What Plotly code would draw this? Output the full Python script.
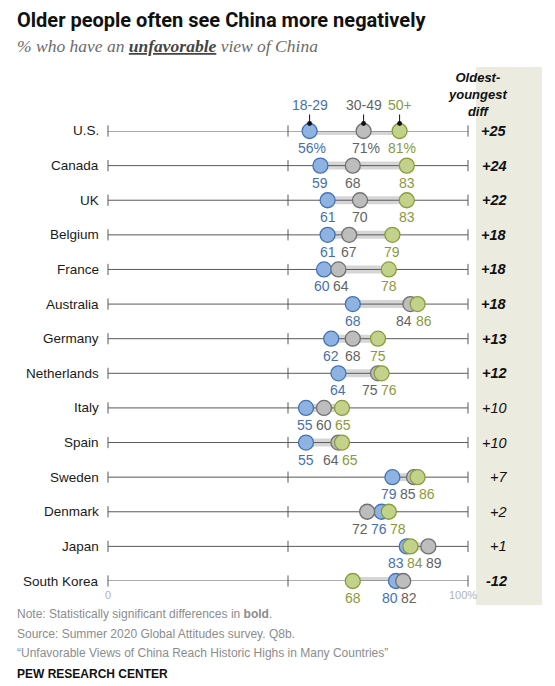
import plotly.graph_objects as go

countries = ["U.S.", "Canada", "UK", "Belgium", "France", "Australia", "Germany",
             "Netherlands", "Italy", "Spain", "Sweden", "Denmark", "Japan", "South Korea"]
age_18_29 = [56, 59, 61, 61, 60, 68, 62, 64, 55, 55, 79, 76, 83, 80]
age_30_49 = [71, 68, 70, 67, 64, 84, 68, 75, 60, 64, 85, 72, 89, 82]
age_50_plus = [81, 83, 83, 79, 78, 86, 75, 76, 65, 65, 86, 78, 84, 68]
significant = [True, True, True, True, True, True, True, True,
               False, False, False, False, False, True]
group_names = ["18-29", "30-49", "50+"]
axis_ticks = [0, 50, 100]
tick_labels = ["0", "", "100%"]

W, H = 555, 686
OFF = 8                    # page body margin
FW, FH = W - OFF, H - OFF  # figure size
X0, X1 = 108, 468          # page pixel positions of 0 and 100
Y0, Y1 = 131, 581          # page pixel positions of first and last row
PXU = (X1 - X0) / 100.0


def py(p):
    return 1 - (p - OFF) / FH


def pxp(p):
    return (p - OFF) / FW


FONT = "Liberation Sans, Arial, sans-serif"
fill = ["#8fb3e1", "#bdbdbd", "#c3d28a"]
edge = ["#4472b8", "#707070", "#8a9c3c"]
lab_col = ["#4670b0", "#636363", "#8a9a3c"]

series = [age_18_29, age_30_49, age_50_plus]
rows = list(range(len(countries)))

fig = go.Figure()

# range band (min to max)
bx, by = [], []
for i in rows:
    vals = [s[i] for s in series]
    bx += [min(vals), max(vals), None]
    by += [i, i, None]
fig.add_trace(go.Scatter(x=bx, y=by, mode="lines", line=dict(color="#d6d6d6", width=8),
                         hoverinfo="skip", cliponaxis=False))
# axis lines
lx, ly = [], []
for i in rows:
    lx += [axis_ticks[0], axis_ticks[-1], None]
    ly += [i, i, None]
fig.add_trace(go.Scatter(x=lx, y=ly, mode="lines", line=dict(color="#595959", width=1),
                         hoverinfo="skip", cliponaxis=False))
tx, ty = [], []
for i in rows:
    for t in axis_ticks:
        tx.append(t)
        ty.append(i)
fig.add_trace(go.Scatter(x=tx, y=ty, mode="markers",
                         marker=dict(symbol="line-ns", size=8, line=dict(color="#595959", width=1)),
                         hoverinfo="skip", cliponaxis=False))
# dots
for k, s in enumerate(series):
    fig.add_trace(go.Scatter(x=s, y=rows, mode="markers",
                             marker=dict(size=15, color=fill[k], line=dict(color=edge[k], width=1.3)),
                             hoverinfo="skip", cliponaxis=False))

annotations = []

# value labels with simple collision avoidance
SEP = 19.0
for i in rows:
    items = sorted([(X0 + series[k][i] * PXU, k) for k in range(3)])
    clusters = [[it] for it in items]

    def positions(c):
        m = sum(p for p, _ in c) / len(c)
        n = len(c)
        return [m + (j - (n - 1) / 2) * SEP for j in range(n)]

    changed = True
    while changed:
        changed = False
        for j in range(len(clusters) - 1):
            a, b = positions(clusters[j]), positions(clusters[j + 1])
            if a[-1] + SEP > b[0] + 0.01:
                clusters[j] = clusters[j] + clusters[j + 1]
                del clusters[j + 1]
                changed = True
                break
    for c in clusters:
        for (orig, k), newp in zip(c, positions(c)):
            txt = str(series[k][i]) + ("%" if i == 0 else "")
            annotations.append(dict(x=series[k][i], y=i, xref="x", yref="y", text=txt,
                                    showarrow=False, xshift=newp - orig + (2 if i == 0 else 0),
                                    yshift=-17, font=dict(family=FONT, size=14, color=lab_col[k])))

# group labels with pointers above first row
for k in range(3):
    annotations.append(dict(x=series[k][0], y=0, xref="x", yref="y", text=group_names[k],
                            showarrow=True, ax=0, ay=-26, arrowhead=6, arrowsize=1.2,
                            arrowwidth=1, arrowcolor="#111", standoff=7.5,
                            font=dict(family=FONT, size=14, color=lab_col[k])))

# country labels
for i in rows:
    annotations.append(dict(x=pxp(101), y=i, xref="paper", yref="y", text=countries[i],
                            xanchor="right", showarrow=False,
                            font=dict(family=FONT, size=13.5, color="#1a1a1a")))

# axis tick labels below last row
for t, tl in zip(axis_ticks, tick_labels):
    if tl:
        annotations.append(dict(x=t, y=rows[-1], xref="x", yref="y", text=tl, showarrow=False,
                                yshift=-14, xshift=(-5 if t == 100 else 0),
                                font=dict(family=FONT, size=11, color="#b3b3b3")))

# diff column
PANEL_CX = 509
for i in rows:
    d = age_50_plus[i] - age_18_29[i]
    txt = ("+%d" % d) if d > 0 else ("-%d" % abs(d))
    if significant[i]:
        txt = "<b>" + txt + "</b>"
    annotations.append(dict(x=pxp(PANEL_CX), y=i, xref="paper", yref="y", text="<i>" + txt + "</i>",
                            showarrow=False, font=dict(family=FONT, size=14.5, color="#111")))
annotations.append(dict(x=pxp(PANEL_CX), y=py(94), xref="paper", yref="paper", yanchor="middle",
                        text="<b><i>Oldest-<br>youngest<br>diff</i></b>", showarrow=False,
                        font=dict(family=FONT, size=13, color="#111")))

# title, subtitle, notes
annotations.append(dict(x=pxp(15), y=py(20), xref="paper", yref="paper", xanchor="left",
                        yanchor="middle",
                        text="<b>Older people often see China more negatively</b>", showarrow=False,
                        font=dict(family="Roboto, Arial", size=20, color="#111")))
annotations.append(dict(x=pxp(15), y=py(46), xref="paper", yref="paper", xanchor="left",
                        yanchor="middle",
                        text="<i>% who have an <span style='color:#444'><b><u>unfavorable</u></b></span> view of China</i>",
                        showarrow=False,
                        font=dict(family="Liberation Serif, DejaVu Serif, serif", size=17.5, color="#6b6b6b")))
notes = ["Note: Statistically significant differences in <b>bold</b>.",
         "Source: Summer 2020 Global Attitudes survey. Q8b.",
         "\u201cUnfavorable Views of China Reach Historic Highs in Many Countries\u201d"]
for j, n in enumerate(notes):
    annotations.append(dict(x=pxp(15), y=py(614 + j * 19.5), xref="paper", yref="paper",
                            xanchor="left", yanchor="middle", text=n, showarrow=False,
                            font=dict(family=FONT, size=12, color="#8c8c8c")))
annotations.append(dict(x=pxp(15), y=py(674), xref="paper", yref="paper", xanchor="left",
                        yanchor="middle",
                        text="<b>PEW RESEARCH CENTER</b>", showarrow=False,
                        font=dict(family=FONT, size=12, color="#111")))

shapes = [dict(type="rect", xref="paper", yref="paper", x0=pxp(476), x1=pxp(542),
               y0=py(605), y1=py(67), fillcolor="#ecebe0", line=dict(width=0), layer="below")]

fig.update_layout(
    width=FW, height=FH, margin=dict(l=0, r=0, t=0, b=0),
    paper_bgcolor="white", plot_bgcolor="rgba(0,0,0,0)", showlegend=False,
    xaxis=dict(domain=[pxp(X0), pxp(X1)], range=[0, 100], visible=False, fixedrange=True),
    yaxis=dict(domain=[py(Y1), py(Y0)], range=[len(countries) - 1, 0], visible=False, fixedrange=True),
    annotations=annotations, shapes=shapes,
)
fig.write_html("out.html")
